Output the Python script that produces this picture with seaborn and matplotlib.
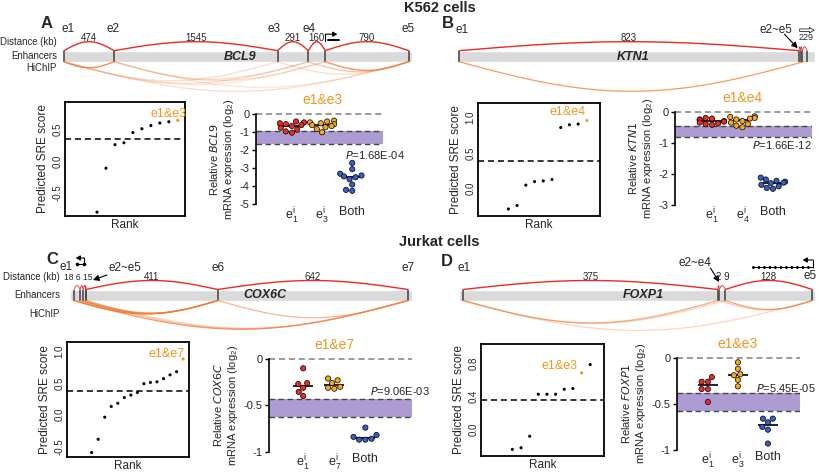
import numpy as np
import pandas as pd
import matplotlib
matplotlib.use('Agg')
import matplotlib.pyplot as plt
import seaborn as sns

# ---------------- data ----------------
# genome tracks (positions in kb along the locus)
A_anchor = [0, 474, 2019, 2310, 2470, 3260]
A_dist = ['474', '1545', '291', '160', '790']
A_lab = ['e1', 'e2', 'e3', 'e4', 'e5']
A_lab_x = [35, 460, 1990, 2320, 3255]
A_hichip = [(0, 474, 0.9), (0, 2019, 0.25), (0, 2310, 0.25), (0, 2470, 0.2), (0, 3260, 0.25),
            (474, 2310, 0.3), (474, 2470, 0.25), (474, 3260, 0.2), (2019, 3260, 0.25),
            (2310, 3260, 0.45), (2470, 3260, 0.85)]

B_anchor = [0, 823, 827, 831, 843]
B_dist = ['823', '', '', '']
B_lab = ['e1', 'e2~e5']
B_lab_x = [8, 768]
B_hichip = [(0, 835, 0.75)]

C_anchor = [0, 20, 30, 38, 39, 470, 1092]
C_dist = ['', '', '', '', '411', '642']
C_lab = ['e1', 'e2~e5', 'e6', 'e7']
C_lab_x = [-26, 167, 470, 1092]
C_hichip = [(0, 470, 0.95), (20, 470, 0.8), (30, 470, 0.6), (39, 470, 0.5), (0, 1092, 0.75),
            (20, 1092, 0.4), (39, 1092, 0.35), (470, 1092, 0.55)]

D_anchor = [0, 375, 377, 386, 514]
D_dist = ['375', '', '', '128']
D_lab = ['e1', 'e2~e4', 'e5']
D_lab_x = [2, 341, 510]
D_hichip = [(0, 375, 0.4), (0, 377, 0.35), (0, 386, 0.3), (0, 514, 0.3), (386, 514, 0.7), (377, 514, 0.4)]

# predicted SRE scores (sorted by rank), index of the highlighted pair
A_sre = [-0.80, -0.11, 0.26, 0.29, 0.45, 0.51, 0.56, 0.60, 0.62, 0.64]
A_hit = 9
B_sre = [-0.30, -0.25, 0.04, 0.09, 0.10, 0.12, 0.86, 0.90, 0.91, 0.96]
B_hit = 9
C_sre = [-0.60, -0.39, -0.04, 0.13, 0.18, 0.27, 0.31, 0.35, 0.49, 0.51, 0.52, 0.57, 0.63, 0.68, 0.88]
C_hit = 14
D_sre = [-0.25, -0.23, -0.09, 0.42, 0.42, 0.42, 0.48, 0.49, 0.68, 0.78]
D_hit = 8
sre_cut = [0.355, 0.38, 0.368, 0.347]

# relative mRNA expression (log2)
A_e1 = [-0.40, -0.45, -0.50, -0.55, -0.60, -0.65, -0.75, -0.85, -0.95, -1.02]
A_e3 = [-0.35, -0.40, -0.45, -0.50, -0.55, -0.60, -0.65, -0.72, -0.82, -1.00]
A_both = [-2.70, -3.05, -3.30, -3.40, -3.45, -3.50, -3.60, -3.90, -4.20, -4.25]
B_e1 = [-0.20, -0.22, -0.25, -0.27, -0.30, -0.32, -0.35, -0.38, -0.40, -0.42]
B_e4 = [-0.15, -0.17, -0.20, -0.22, -0.25, -0.30, -0.35, -0.40, -0.45, -0.50]
B_both = [-2.12, -2.18, -2.22, -2.25, -2.28, -2.30, -2.35, -2.40, -2.45, -2.48]
C_e1 = [-0.10, -0.26, -0.27, -0.31, -0.355, -0.40]
C_e7 = [-0.21, -0.23, -0.26, -0.30, -0.31, -0.32]
C_both = [-0.74, -0.82, -0.84, -0.86, -0.87, -0.87]
D_e1 = [-0.21, -0.26, -0.26, -0.34, -0.34, -0.48]
D_e3 = [-0.05, -0.12, -0.18, -0.19, -0.24, -0.31]
D_both = [-0.66, -0.66, -0.70, -0.75, -0.78, -0.93]
band = [(-0.91, -1.67), (-0.46, -0.81), (-0.43, -0.63), (-0.38, -0.58)]
pvals = ['1.68E-04', '1.66E-12', '9.06E-03', '5.45E-05']

# ---------------- style ----------------
sns.set_style('white')
plt.rcParams['font.family'] = ['Liberation Sans', 'DejaVu Sans']
plt.rcParams['mathtext.default'] = 'regular'

W, H = 821, 473
RED = '#ec2a26'
ORANGE = '#f7941d'
GOLD = '#f6a81f'
BLUE = '#3a5cc6'
HIC = '#ef7a35'
PURPLE = '#ad9bd3'

fig = plt.figure(figsize=(W / 100, H / 100), dpi=100)


def px_axes(x0, y0, x1, y1):
    ax = fig.add_axes([x0 / W, 1 - y1 / H, (x1 - x0) / W, (y1 - y0) / H])
    ax.patch.set_alpha(0)
    return ax


def draw_track(box, xlim, anchors, dists, labs, lab_x, lab_y, hichip, gene, gene_x):
    ax = px_axes(*box)
    ax.set_xlim(xlim)
    ax.set_ylim(40, -40)
    ax.axis('off')
    sx = (box[2] - box[0]) / (xlim[1] - xlim[0])
    ax.barh(0, xlim[1] - xlim[0], left=xlim[0], height=11, color='#dadada', zorder=1)
    ax.vlines(anchors, -5.5, 5.5, color='#4d4d4d', lw=1.2, zorder=2)
    t = np.linspace(0, 1, 60)
    for a, b, d in zip(anchors[:-1], anchors[1:], dists):
        span = (b - a) * sx
        small = span < 12
        h = 4 if small else 9
        ax.plot(a + (b - a) * t, -5.5 - h * np.sin(np.pi * t), color=RED,
                lw=0.6 if small else 1.0, zorder=3)
        if d:
            ax.text((a + b) / 2, -18, d, ha='center', va='center', fontsize=7)
    for a, b, al in hichip:
        span = (b - a) * sx
        dep = 0.08 * span + 2
        ax.plot(a + (b - a) * t, 5.5 + dep * np.sin(np.pi * t), color=HIC, alpha=al, lw=0.9, zorder=2)
    for s, x, y in zip(labs, lab_x, lab_y):
        ax.text(x, y, s, ha='center', va='center', fontsize=8.5)
    ax.text(gene_x, 0.3, gene, ha='center', va='center', fontsize=9,
            fontweight='bold', fontstyle='italic', zorder=4)
    return ax, sx


def bent_arrow(ax, x, y0, y1, dx):
    ax.plot([x, x], [y0, y1], color='k', lw=0.8)
    ax.annotate('', xy=(x + dx, y1), xytext=(x, y1),
                arrowprops=dict(arrowstyle='-|>,head_length=0.25,head_width=0.15', color='k', lw=0.8,
                                shrinkA=0, shrinkB=0))


def pointer(ax, x0, y0, x1, y1):
    ax.annotate('', xy=(x1, y1), xytext=(x0, y0),
                arrowprops=dict(arrowstyle='-|>,head_length=0.35,head_width=0.18', color='k', lw=0.8,
                                shrinkA=0, shrinkB=0))


# track A
axA, sxA = draw_track((63, 16.2, 412, 96.2), (-9, 3290), A_anchor, A_dist, A_lab, A_lab_x,
                      [-27.5] * 5, A_hichip, 'BCL9', 1663)
bent_arrow(axA, A_anchor[4], -15, -22, 12 / sxA)
axA.plot([A_anchor[4] + 3 / sxA, A_anchor[4] + 14 / sxA], [-16.5, -16.5], color='k', lw=1.4)

# track B
axB, sxB = draw_track((457, 16.2, 815, 96.2), (-5, 862), B_anchor, B_dist, B_lab, B_lab_x,
                      [-26, -26], B_hichip, 'KTN1', 421)
axB.text(B_anchor[-1] - 2, -18.5, '229', ha='center', va='center', fontsize=6.5)
pointer(axB, 788, -22, 820, -8)
axB.annotate('', xy=(860, -26), xytext=(825, -26),
             arrowprops=dict(arrowstyle='simple,head_length=0.35,head_width=0.4,tail_width=0.18',
                             fc='white', ec='k', lw=0.5, shrinkA=0, shrinkB=0))

# track C
axC, sxC = draw_track((70, 255, 412, 335), (-13, 1105), C_anchor, C_dist, C_lab, C_lab_x,
                      [-28.5, -27, -27, -27], C_hichip, 'COX6C', 624)
axC.text(13, -17.5, '18 6 15', ha='center', va='center', fontsize=6.2)
pointer(axC, 108, -20, 62, -15)
bent_arrow(axC, 34, -30, -37, -28)
axC.plot([10, 34], [-31.5, -31.5], color='k', lw=0.8, marker='o', ms=1.6)

# track D
axD, sxD = draw_track((459, 255, 815, 335), (-6, 518), D_anchor, D_dist, D_lab, D_lab_x,
                      [-27, -32, -19], D_hichip, 'FOXP1', 265)
axD.text(382, -18.5, '2 9', ha='center', va='center', fontsize=7)
pointer(axD, 364, -27, 377, -13)
axD.plot([425, 515], [-28, -28], color='k', lw=0.7)
axD.plot([425, 515], [-28, -28], color='k', lw=2.2, ls=(0, (0.6, 1.2)))
bent_arrow(axD, 515, -28, -35, -15)

# left track row labels
for y0 in (0, 1):
    base = [41.7, 56, 68] if y0 == 0 else [277, 295, 314]
    xr = 57 if y0 == 0 else 60
    for txt, yy in zip(['Distance (kb)', 'Enhancers', 'HiChIP'], base):
        fig.text(xr / W, 1 - yy / H, txt, ha='right', va='center', fontsize=6.9)


# ---------------- SRE score panels ----------------
def sre_panel(box, scores, hit, cut, xlim, ylim, ticks, ticklabs, lab, off):
    ax = px_axes(*box)
    rank = np.arange(1, len(scores) + 1)
    df = pd.DataFrame({'rank': rank, 'score': scores, 'hit': rank == hit + 1})
    sns.scatterplot(data=df, x='rank', y='score', hue='hit', palette={False: 'black', True: ORANGE},
                    s=5, linewidth=0, legend=False, ax=ax)
    ax.axhline(cut, color='k', ls=(0, (4, 2.5)), lw=1.1)
    ax.set_xlim(xlim)
    ax.set_ylim(ylim)
    ax.set_xticks([])
    ax.set_yticks(ticks)
    ax.set_yticklabels(ticklabs, rotation=90, va='center', fontsize=7)
    ax.tick_params(axis='y', length=0, pad=2)
    for sp in ax.spines.values():
        sp.set_visible(True)
        sp.set_color('k')
        sp.set_linewidth(1.3)
    ax.set_xlabel('Rank', fontsize=8.5, labelpad=2)
    ax.set_ylabel('Predicted SRE score', fontsize=8.5, labelpad=2)
    ax.annotate(lab, xy=(hit + 1, scores[hit]), xytext=off, textcoords='offset points',
                ha='right', va='center', color=ORANGE, fontsize=9)
    return ax


sre_panel((65, 102, 185, 216), A_sre, A_hit, sre_cut[0], (-2.56, 10.8), (-0.86, 0.93),
          [-0.5, 0, 0.5], ['-0.5', '0.0', '0.5'], 'e1&e3', (6, 5))
sre_panel((478, 103, 600, 216), B_sre, B_hit, sre_cut[1], (-2.48, 11.5), (-0.40, 1.21),
          [0, 0.5, 1.0], ['0.0', '0.5', '1.0'], 'e1&e4', (-1, 6))
sre_panel((67, 342, 189, 457), C_sre, C_hit, sre_cut[2], (-2.77, 15.9), (-0.67, 1.15),
          [-0.5, 0, 0.5, 1.0], ['-0.5', '0.0', '0.5', '1.0'], 'e1&e7', (1, 4))
sre_panel((481, 344, 604, 456), D_sre, D_hit, sre_cut[3], (-2.63, 11.6), (-0.33, 1.03),
          [0, 0.4, 0.8], ['0.0', '0.4', '0.8'], 'e1&e3', (-3, 5))


# ---------------- expression panels ----------------
def expr_panel(box, groups, names, gene, bnd, pv, pxy, xlim, ylim, yt, ytl, title):
    ax = px_axes(*box)
    df = pd.DataFrame({'grp': np.repeat(names, [len(g) for g in groups]),
                       'val': np.concatenate(groups)})
    ax.axhspan(bnd[1], bnd[0], color=PURPLE, lw=0, zorder=0)
    ax.axhline(0, color='#808080', ls=(0, (4, 2.5)), lw=1.1, zorder=1, clip_on=False)
    for b in bnd:
        ax.axhline(b, color='#444444', ls=(0, (4, 2.5)), lw=1.0, zorder=1)
    for i, g in enumerate(groups):
        ax.hlines(np.median(g), i - 0.32, i + 0.32, color='k', lw=1.2, zorder=2)
    sns.swarmplot(data=df, x='grp', y='val', hue='grp', order=names, palette=[RED, GOLD, BLUE],
                  size=3.8, linewidth=0.5, edgecolor='k', legend=False, ax=ax, zorder=3, clip_on=False)
    ax.set_xlim(xlim)
    ax.set_ylim(ylim)
    ax.set_yticks(yt)
    ax.set_yticklabels(ytl, fontsize=8)
    ax.set_xticks(range(3))
    ax.set_xticklabels(names, fontsize=9)
    sns.despine(ax=ax, top=True, right=True, bottom=True)
    ax.spines['left'].set_color('k')
    ax.spines['left'].set_linewidth(1.2)
    ax.tick_params(axis='y', length=3, width=1, color='k', pad=1.5, left=True)
    ax.tick_params(axis='x', length=0, pad=1)
    ax.set_xlabel('')
    ax.set_ylabel('Relative $\\mathit{' + gene + '}$\nmRNA expression (log$_2$)', fontsize=8,
                  labelpad=3, linespacing=1.15)
    ax.text(pxy[0], pxy[1], '$\\mathit{P}$=' + pv, fontsize=8, ha='left', va='center')
    ax.annotate(title, xy=(1, 1), xycoords=('data', 'axes fraction'), xytext=(0, 10),
                textcoords='offset points', ha='center', va='center', color=ORANGE, fontsize=10)
    return ax


expr_panel((256, 114.3, 383, 204.3), [A_e1, A_e3, A_both], ['$e_1^i$', '$e_3^i$', 'Both'], 'BCL9',
           band[0], pvals[0], (1.75, -2.26), (-1.19, 3.02), (-5, 0), [0, -1, -2, -3, -4, -5],
           ['0', '-1', '-2', '-3', '-4', '-5'], 'e1&e3')
expr_panel((675, 111.7, 812, 205), [B_e1, B_e4, B_both], ['$e_1^i$', '$e_4^i$', 'Both'], 'KTN1',
           band[1], pvals[1], (1.30, -1.07), (-1.21, 3.28), (-3, 0), [0, -1, -2, -3],
           ['0', '-1', '-2', '-3'], 'e1&e4')
expr_panel((269, 359, 412, 451.7), [C_e1, C_e7, C_both], ['$e_1^i$', '$e_7^i$', 'Both'], 'COX6C',
           band[2], pvals[2], (2.15, -0.345), (-1.10, 3.5), (-1, 0), [0, -0.5, -1],
           ['0', '-0.5', '-1'], 'e1&e7')
expr_panel((677, 357.7, 800, 450), [D_e1, D_e3, D_both], ['$e_1^i$', '$e_3^i$', 'Both'], 'FOXP1',
           band[3], pvals[3], (1.6, -0.33), (-1.03, 3.07), (-1, 0), [0, -0.5, -1],
           ['0', '-0.5', '-1'], 'e1&e3')

# ---------------- titles and panel letters ----------------
fig.text(440 / W, 1 - 8 / H, 'K562 cells', ha='center', va='center', fontsize=10.5, fontweight='bold')
fig.text(439 / W, 1 - 242 / H, 'Jurkat cells', ha='center', va='center', fontsize=10.5, fontweight='bold')
for letter, (x, y) in zip('ABCD', [(47, 24), (448, 24), (52, 259), (447, 261)]):
    fig.text(x / W, 1 - y / H, letter, ha='center', va='center', fontsize=12, fontweight='bold')

fig.savefig('out.png', dpi=100)
